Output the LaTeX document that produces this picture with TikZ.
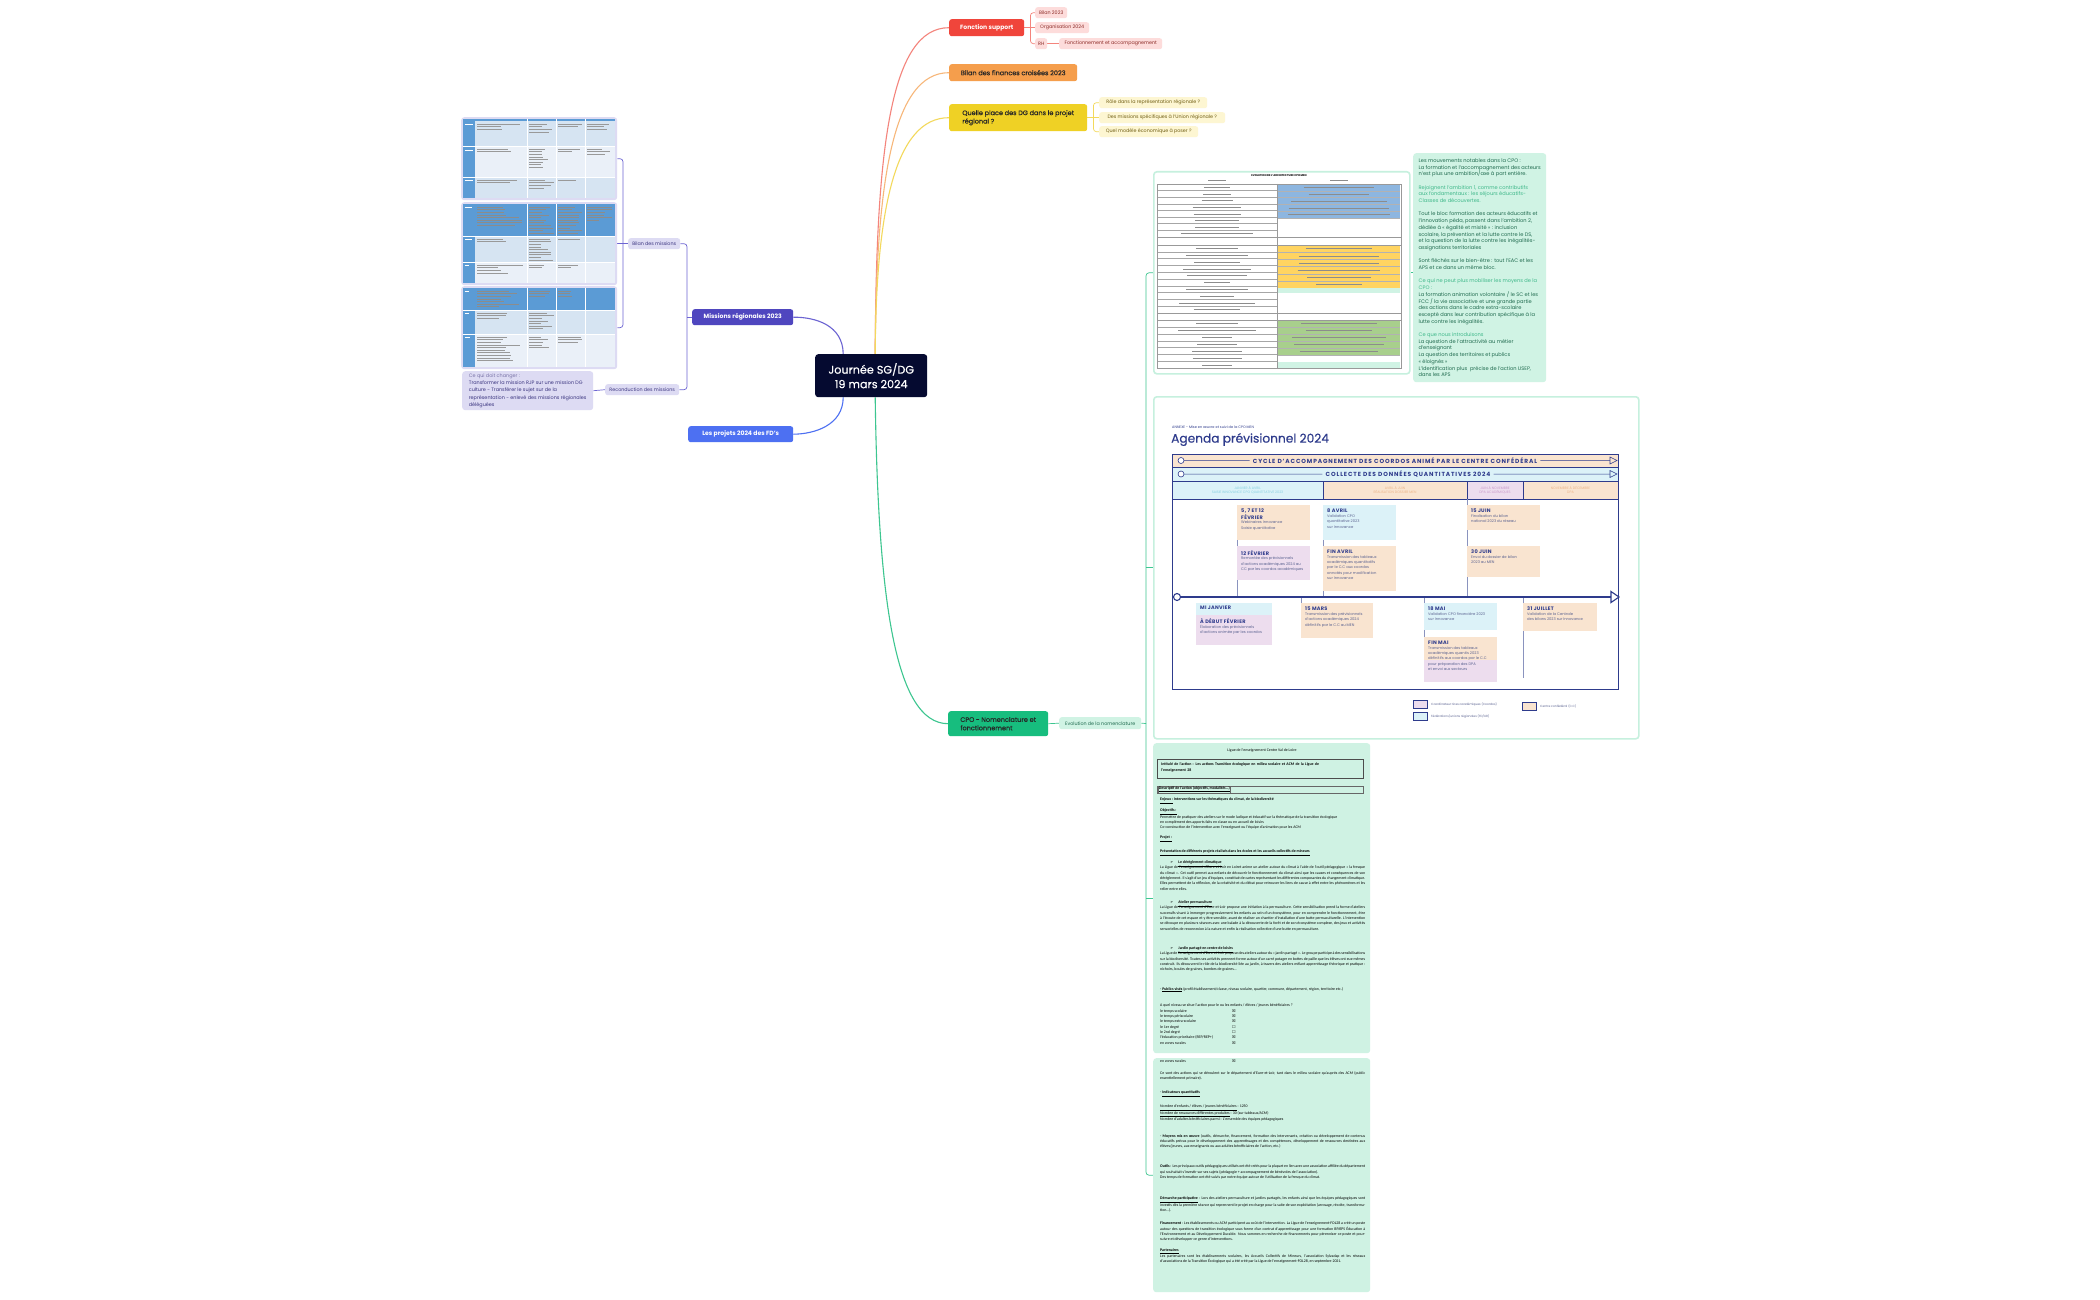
\documentclass[tikz,border=0pt]{standalone}
\usepackage{fontspec}
\setmainfont{Poppins}
\newfontfamily\pmed{Poppins}[FakeBold=0.5]
\newfontfamily\docf{Carlito}
\newfontfamily\dvs{DejaVu Sans}
\usetikzlibrary{calc}
\pgfdeclarelayer{back}
\pgfdeclarelayer{bg}
\pgfsetlayers{back,bg,main}
\definecolor{navy}{HTML}{050A30}
\definecolor{fsred}{HTML}{F0453B}
\definecolor{fsredln}{HTML}{F4847C}
\definecolor{fssub}{HTML}{FDDCDB}
\definecolor{fstxt}{HTML}{8C2B27}
\definecolor{orng}{HTML}{F59E4C}
\definecolor{orngln}{HTML}{F7B77A}
\definecolor{yel}{HTML}{EFD125}
\definecolor{yelln}{HTML}{F3D95C}
\definecolor{yelsub}{HTML}{FDF6D2}
\definecolor{yeltxt}{HTML}{6E5C12}
\definecolor{grn}{HTML}{17BD7E}
\definecolor{grnln}{HTML}{3DC690}
\definecolor{grnsub}{HTML}{D0F3E4}
\definecolor{grntxt}{HTML}{1F6A4E}
\definecolor{grnlt}{HTML}{3FB88A}
\definecolor{grnfr}{HTML}{C6F0DE}
\definecolor{pur}{HTML}{4F46BF}
\definecolor{purln}{HTML}{6C64D2}
\definecolor{pursub}{HTML}{DDDBF3}
\definecolor{purtxt}{HTML}{3B3580}
\definecolor{purgr}{HTML}{7A74A8}
\definecolor{blu}{HTML}{4D70F2}
\definecolor{ag}{HTML}{2E3B8C}
\definecolor{agbody}{HTML}{5A6290}
\definecolor{agdiv}{HTML}{8A93BE}
\definecolor{agpeach}{HTML}{F9E4D0}
\definecolor{agblue}{HTML}{DCF2F8}
\definecolor{aglav}{HTML}{EDDDEE}
\definecolor{phblue}{HTML}{86CFE0}
\definecolor{phpeach}{HTML}{EBB58A}
\definecolor{phlav}{HTML}{C99BCB}
\definecolor{tbblue}{HTML}{5B9BD5}
\definecolor{tblt}{HTML}{D6E4F2}
\definecolor{tbxlt}{HTML}{EAF0F8}
\definecolor{evblue}{HTML}{8DB6E0}
\definecolor{evorg}{HTML}{FFD461}
\definecolor{evgrn}{HTML}{A8CF8C}
\definecolor{docbg}{HTML}{CFF2E3}
\newcommand\fcen{\pmed\fontsize{11.2pt}{14.5pt}\selectfont}
\newcommand\fone{\pmed\fontsize{6.5pt}{8.4pt}\selectfont}
\newcommand\fonebf{\fontsize{6.1pt}{8pt}\selectfont\bfseries}
\newcommand\ftwo{\fontsize{4.8pt}{6pt}\selectfont}
\newcommand\fcq{\fontsize{4.9pt}{7.2pt}\selectfont}
\newcommand\fgt{\fontsize{5.1pt}{6.7pt}\selectfont}
\newcommand\fagt{\fontsize{5pt}{6.2pt}\selectfont\bfseries\addfontfeature{LetterSpace=6}}
\newcommand\fagb{\fontsize{3.7pt}{5.2pt}\selectfont}
\newcommand\fband{\fontsize{5.9pt}{6.5pt}\selectfont\bfseries\addfontfeature{LetterSpace=15}}
\newcommand\fph{\fontsize{3.4pt}{4.5pt}\selectfont}
\newcommand\fdoc{\docf\fontsize{3.9pt}{5.3pt}\selectfont}
\tikzset{
  mm/.style={anchor=north west, rounded corners=2.5pt, inner sep=1pt, align=left},
  cl/.style={line width=1.1pt},
  sl/.style={line width=0.7pt, rounded corners=3pt},
  imgfr/.style={anchor=north west, rounded corners=3pt, draw=grnfr, line width=1.6pt, fill=white, inner sep=0pt},
  fkl/.style={line width=0.35pt, draw=#1},
  fkl/.default={black!45},
  docp/.style={anchor=north west, inner sep=0pt, font=\fdoc, text width=205pt, align=justify},
  agcol/.style={draw=ag, line width=0.6pt}
}
% fake text lines: x, ytop, width, n, pitch, colour
\newcommand\fk[6]{\foreach \i in {1,...,#4}{\pgfmathsetmacro\L{#3*(0.45+0.55*rnd)}\draw[line width=0.35pt,#6] (#1,#2+\i*#5-#5) -- ++(\L,0);}}
\newcommand\evleft[3]{\foreach \i in {1,...,#2}{\pgfmathsetmacro\yy{#1+(\i-0.5)*#3}\pgfmathsetmacro\L{25+55*rnd}\draw[fkl] (1217-\L/2,\yy) -- (1217+\L/2,\yy);\draw[black!35,line width=0.3pt] (1157,#1+\i*#3) -- (1277,#1+\i*#3);}}
\newcommand\evright[4]{\fill[#3] (1278,#1) rectangle (1400,#2);\pgfmathsetmacro\pp{(#2-#1)/#4}\foreach \i in {1,...,#4}{\pgfmathsetmacro\yy{#1+(\i-0.5)*\pp}\pgfmathsetmacro\L{40+70*rnd}\draw[fkl] (1339-\L/2,\yy) -- (1339+\L/2,\yy);\draw[black!30,line width=0.3pt] (1278,#1+\i*\pp) -- (1400,#1+\i*\pp);}}
\newcommand\agcard[8]{%
  \fill[#6] (#2,#3) rectangle (#4,#5);
  \node[anchor=north west, inner sep=0pt, text=ag, font=\fagt, align=left] (#1t) at (#2+4,#3+4) {#7};
  \node[anchor=north west, inner sep=0pt, text=agbody, font=\fagb, align=left] (#1b) at ([yshift=-1.5pt]#1t.south west) {#8};}
\begin{document}
\begin{tikzpicture}[x=1pt,y=-1pt]
\pgfmathsetseed{7}
\begin{pgfonlayer}{back}
\fill[white] (0,0) rectangle (2100,1300);
\end{pgfonlayer}
\path[use as bounding box] (0,0) rectangle (2100,1300);

% ---------- central and first level ----------
\node[mm, fill=navy, text=white, font=\fcen, align=center, minimum width=112pt, minimum height=43pt, rounded corners=3pt] (c) at (815,354) {Journée SG/DG\\19 mars 2024};
\node[mm, fill=fsred, text=white, font=\fonebf, minimum width=75pt, minimum height=17pt] (fs) at (949,19) {Fonction support};
\node[mm, fill=orng, text=black!85, font=\fone, minimum width=128pt, minimum height=17pt] (bf) at (949,64) {Bilan des finances croisées 2023};
\node[mm, fill=yel, text=black!85, font=\fone, minimum width=138pt, minimum height=27pt] (qp) at (949,104) {Quelle place des DG dans le projet\\régional ?};
\node[mm, fill=grn, text=black!85, font=\fone, minimum width=100pt, minimum height=25pt] (cpo) at (948,711) {CPO - Nomenclature et\\fonctionnement};
\node[mm, fill=pur, text=white, font=\fonebf, minimum width=101pt, minimum height=16pt] (mr) at (692,309) {Missions régionales 2023};
\node[mm, fill=blu, text=white, font=\fonebf, minimum width=105pt, minimum height=16pt] (fd) at (688,426) {Les projets 2024 des FD's};

% ---------- second level ----------
\node[mm, fill=fssub, text=fstxt, font=\ftwo, minimum width=32pt, minimum height=11pt] (b23) at (1035,7) {Bilan 2023};
\node[mm, fill=fssub, text=fstxt, font=\ftwo, minimum width=54pt, minimum height=11pt] (org) at (1035,22) {Organisation 2024};
\node[mm, fill=fssub, text=fstxt, font=\ftwo, minimum width=12pt, minimum height=11pt] (rh) at (1035,38) {RH};
\node[mm, fill=fssub, text=fstxt, font=\ftwo, minimum width=103pt, minimum height=11pt] (fa) at (1059,38) {Fonctionnement et accompagnement};
\node[mm, fill=yelsub, text=yeltxt, font=\ftwo, minimum width=108pt, minimum height=11pt] (q1) at (1099,97) {Rôle dans la représentation régionale ?};
\node[mm, fill=yelsub, text=yeltxt, font=\ftwo, minimum width=126pt, minimum height=11pt] (q2) at (1099,112) {Des missions spécifiques à l'Union régionale ?};
\node[mm, fill=yelsub, text=yeltxt, font=\ftwo, minimum width=99pt, minimum height=11pt] (q3) at (1099,126) {Quel modèle économique à poser ?};
\node[mm, fill=grnsub, text=grntxt, font=\ftwo, minimum width=82pt, minimum height=12pt] (evo) at (1059,717) {Evolution de la nomenclature};
\node[mm, fill=pursub, text=purtxt, font=\ftwo, minimum width=52pt, minimum height=11pt] (bm) at (628,238) {Bilan des missions};
\node[mm, fill=pursub, text=purtxt, font=\ftwo, minimum width=74pt, minimum height=11pt] (rc) at (605,384) {Reconduction des missions};
\node[mm, fill=pursub, text=purtxt, font=\fcq, minimum width=131pt, minimum height=39pt, rounded corners=3pt] (cq) at (462,371) {\textcolor{purgr}{Ce qui doit changer :}\\Transformer la mission RJP sur une mission DG\\culture - Transférer le sujet sur de la\\représentation - enlevé des missions régionales\\déléguées};

% ---------- left table images ----------
\node[mm, fill=pursub, minimum width=156pt, minimum height=83pt, rounded corners=3pt] (tb1) at (461,117) {};
\fill[tbxlt] (463,119) rectangle (615,198);
\fill[tbblue] (463,119) rectangle (615,121.5);
\fill[tbblue] (463,121.5) rectangle (475,198);
\fill[tblt] (475,121.5) rectangle (615,146);
\fill[tblt] (475,177) rectangle (615,198);
\draw[white, line width=0.5pt] (527,119) -- (527,198) (556,119) -- (556,198) (585,119) -- (585,198) (463,146) -- (615,146) (463,177) -- (615,177);
\fk{477}{124}{46}{3}{2.6}{black!40}\fk{529}{124}{25}{4}{2.6}{black!40}\fk{558}{124}{25}{2}{2.6}{black!40}\fk{587}{124}{26}{3}{2.6}{black!40}
\fk{477}{149}{46}{2}{2.6}{black!40}\fk{529}{149}{25}{8}{2.6}{black!40}\fk{558}{149}{25}{2}{2.6}{black!40}\fk{587}{149}{26}{3}{2.6}{black!40}
\fk{477}{180}{46}{2}{2.6}{black!40}\fk{529}{180}{25}{4}{2.6}{black!40}\fk{558}{180}{22}{1}{2.6}{black!40}
\fk{464.5}{150}{9}{1}{2.6}{white}\fk{464.5}{124}{9}{1}{2.6}{white}\fk{464.5}{180}{9}{1}{2.6}{white}

\node[mm, fill=pursub, minimum width=156pt, minimum height=83pt, rounded corners=3pt] (tb2) at (461,202) {};
\fill[tbxlt] (463,204) rectangle (615,283);
\fill[tbblue] (463,204) rectangle (615,236);
\fill[tbblue] (463,236) rectangle (475,283);
\fill[tblt] (475,236) rectangle (615,262);
\draw[white, line width=0.5pt] (527,204) -- (527,283) (556,204) -- (556,283) (585,204) -- (585,283) (463,236) -- (615,236) (463,262) -- (615,262);
\fk{477}{207}{46}{8}{2.6}{black!45}\fk{529}{207}{25}{11}{2.6}{black!45}\fk{558}{207}{25}{11}{2.6}{black!45}\fk{587}{207}{26}{6}{2.6}{black!45}
\fk{477}{239}{46}{2}{2.6}{black!40}\fk{529}{239}{25}{9}{2.6}{black!40}\fk{558}{239}{25}{1}{2.6}{black!40}
\fk{477}{265}{46}{4}{2.6}{black!40}\fk{529}{265}{25}{2}{2.6}{black!40}\fk{558}{265}{25}{2}{2.6}{black!40}
\fk{464.5}{207}{9}{1}{2.6}{white}\fk{464.5}{239}{9}{1}{2.6}{white}\fk{464.5}{265}{9}{1}{2.6}{white}

\node[mm, fill=pursub, minimum width=156pt, minimum height=83pt, rounded corners=3pt] (tb3) at (461,286) {};
\fill[tbxlt] (463,288) rectangle (615,367);
\fill[tbblue] (463,288) rectangle (615,310);
\fill[tbblue] (463,310) rectangle (475,367);
\fill[tblt] (475,310) rectangle (615,334);
\draw[white, line width=0.5pt] (527,288) -- (527,367) (556,288) -- (556,367) (585,288) -- (585,367) (463,310) -- (615,310) (463,334) -- (615,334);
\fk{477}{291}{46}{7}{2.6}{black!45}\fk{529}{291}{25}{3}{2.6}{black!45}\fk{558}{291}{25}{3}{2.6}{black!45}
\fk{477}{313}{46}{3}{2.6}{black!40}\fk{529}{313}{25}{7}{2.6}{black!40}
\fk{477}{337}{46}{10}{2.6}{black!40}\fk{529}{337}{25}{5}{2.6}{black!40}\fk{558}{337}{25}{3}{2.6}{black!40}
\fk{464.5}{291}{9}{1}{2.6}{white}\fk{464.5}{313}{9}{1}{2.6}{white}\fk{464.5}{337}{9}{1}{2.6}{white}

% ---------- evolution table image ----------
\node[imgfr, minimum width=256pt, minimum height=202pt] (ev) at (1153,171) {};
\node[font=\fontsize{2.7pt}{3pt}\selectfont\bfseries, inner sep=0pt] (evt) at (1279,176) {EVOLUTION DE L'ARCHITECTURE CPO MEN};
\draw[fkl] (1208,180.5) -- (1226,180.5) (1330,180.5) -- (1348,180.5);
\evright{184}{218}{evblue}{5}
\evright{245}{288}{evorg}{6}
\fill[grnsub] (1278,288) rectangle (1400,293);
\evright{320}{355}{evgrn}{5}
\fill[grnsub] (1278,362) rectangle (1400,368);
\evleft{184}{8}{6.6}
\evleft{245}{10}{6.8}
\evleft{320}{7}{6.9}
\draw[black!40, line width=0.4pt] (1157,184) rectangle (1401,368) (1277,184) -- (1277,368) (1157,237) -- (1401,237) (1157,245) -- (1401,245) (1157,313) -- (1401,313) (1157,320) -- (1401,320);

% ---------- green text box ----------
\node[mm, fill=grnsub, text=grntxt, font=\fgt, minimum width=133pt, minimum height=229pt, rounded corners=3pt] (gtxt) at (1413,153) {Les mouvements notables dans la CPO :\\La formation et l'accompagnement des acteurs\\n'est plus une ambition/axe à part entière.\\[6.7pt]
\textcolor{grnlt}{Rejoignent l'ambition 1, comme contributifs}\\\textcolor{grnlt}{aux fondamentaux : les séjours éducatifs-}\\\textcolor{grnlt}{Classes de découvertes.}\\[6.7pt]
Tout le bloc formation des acteurs éducatifs et\\l'innovation péda, passent dans l'ambition 2,\\dédiée à « égalité et mixité » : inclusion\\scolaire, la prévention et la lutte contre le DS,\\et la question de la lutte contre les inégalités-\\assignations territoriales\\[6.7pt]
Sont fléchés sur le bien-être : tout l'EAC et les\\APS et ce dans un même bloc.\\[6.7pt]
\textcolor{grnlt}{Ce qui ne peut plus mobiliser les moyens de la}\\\textcolor{grnlt}{CPO :}\\La formation animation volontaire / le SC et les\\FCC / la vie associative et une grande partie\\des actions dans le cadre extra-scolaire\\excepté dans leur contribution spécifique à la\\lutte contre les inégalités.\\[6.7pt]
\textcolor{grnlt}{Ce que nous introduisons}\\La question de l'attractivité au métier\\d'enseignant\\La question des territoires et publics\\« éloignés »\\L'identification plus~ précise de l'action USEP,\\dans les APS};

% ---------- agenda image ----------
\node[imgfr, minimum width=485pt, minimum height=342pt] (ag) at (1153,396) {};
\node[anchor=west, inner sep=0pt, text=ag, font=\fontsize{3.5pt}{4pt}\selectfont] (agsup) at (1172,427) {ANNEXE - Mise en œuvre et suivi de la CPO MEN};
\node[anchor=west, inner sep=0pt, text=ag, font=\pmed\fontsize{12.2pt}{13pt}\selectfont] (agtit) at (1171,439.5) {Agenda prévisionnel 2024};
\draw[agcol, fill=agpeach] (1172,454) rectangle (1618,467);
\draw[agcol, fill=agblue] (1172,467) rectangle (1618,481);
\node[font=\fband, text=ag, inner sep=3pt] (b1t) at (1395,460.7) {CYCLE D'ACCOMPAGNEMENT DES COORDOS ANIMÉ PAR LE CENTRE CONFÉDÉRAL};
\node[font=\fband, text=ag, inner sep=3pt] (b2t) at (1408,474.2) {COLLECTE DES DONNÉES QUANTITATIVES 2024};
\draw[ag, line width=0.5pt] (1184,460.5) -- (b1t.west) (b1t.east) -- (1610,460.5) (1184,474) -- (b2t.west) (b2t.east) -- (1610,474);
\draw[agcol, fill=white] (1181,460.5) circle (3) (1181,474) circle (3);
\draw[agcol, fill=agpeach] (1610,457) -- (1617,460.5) -- (1610,464) -- cycle;
\draw[agcol, fill=agblue] (1610,470.5) -- (1617,474) -- (1610,477.5) -- cycle;
\draw[agcol, fill=agblue] (1172,481) rectangle (1323,499);
\draw[agcol, fill=agpeach] (1323,481) rectangle (1467,499);
\draw[agcol, fill=aglav] (1467,481) rectangle (1523,499);
\draw[agcol, fill=agpeach] (1523,481) rectangle (1618,499);
\node[font=\fph, text=phblue, align=center, inner sep=0pt] (ph1) at (1247.5,490) {JANVIER À AVRIL\\SAISIE INNOVANCE CPO QUANTITATIVE 2023};
\node[font=\fph, text=phpeach, align=center, inner sep=0pt] (ph2) at (1395,490) {AVRIL À JUIN\\RÉALISATION DOSSIER MEN};
\node[font=\fph, text=phlav, align=center, inner sep=0pt] (ph3) at (1495,490) {JUIN À NOVEMBRE\\DPA ACADÉMIQUES};
\node[font=\fph, text=phpeach, align=center, inner sep=0pt] (ph4) at (1570.5,490) {NOVEMBRE À DÉCEMBRE\\DPA};
\draw[agcol] (1172,481) rectangle (1618,689);
\draw[agdiv, line width=0.8pt] (1237,505) -- (1237,597) (1323,505) -- (1323,597) (1467,499) -- (1467,597) (1301,597) -- (1301,637) (1424,597) -- (1424,682) (1523,597) -- (1523,678);
\agcard{ca}{1237}{505}{1310}{540}{agpeach}{5, 7 ET 12\\FÉVRIER}{Webinaires Innovance\\Saisie quantitative}
\agcard{cb}{1237}{546}{1310}{580}{aglav}{12 FÉVRIER}{Remontée des prévisionnels\\d'actions académiques 2024 au\\CC par les coordos académiques}
\agcard{cc}{1323}{505}{1396}{540}{agblue}{8 AVRIL}{Validation CPO\\quantitative 2023\\sur Innovance}
\agcard{cd}{1323}{546}{1396}{591}{agpeach}{FIN AVRIL}{Transmission des tableaux\\académiques quantitatifs\\par le C.C aux coordos\\annotés pour modification\\sur Innovance}
\agcard{ce}{1467}{505}{1540}{530}{agpeach}{15 JUIN}{Finalisation du bilan\\national 2023 du réseau}
\agcard{cf}{1467}{546}{1540}{577}{agpeach}{30 JUIN}{Envoi du dossier de bilan\\2023 au MEN}
\fill[agblue] (1196,603) rectangle (1272,615);
\fill[aglav] (1196,615) rectangle (1272,645);
\node[anchor=north west, inner sep=0pt, text=ag, font=\fagt] (cgt) at (1200,606) {MI JANVIER};
\node[anchor=north west, inner sep=0pt, text=ag, font=\fagt] (cgu) at (1200,618) {À DÉBUT FÉVRIER};
\node[anchor=north west, inner sep=0pt, text=agbody, font=\fagb, align=left] (cgb) at ([yshift=-1.5pt]cgu.south west) {Élaboration des prévisionnels\\d'actions animée par les coordos};
\agcard{ch}{1301}{603}{1373}{638}{agpeach}{15 MARS}{Transmission des prévisionnels\\d'actions académiques 2024\\définitifs par le C.C au MEN}
\agcard{ci}{1424}{603}{1497}{630}{agblue}{18 MAI}{Validation CPO financière 2023\\sur Innovance}
\fill[aglav] (1424,660) rectangle (1497,682);
\agcard{cj}{1424}{637}{1497}{660}{agpeach}{FIN MAI}{Transmission des tableaux\\académiques quantis 2023\\définitifs aux coordos par le C.C\\pour préparation des DPA\\et envoi aux secteurs}
\agcard{ck}{1523}{603}{1597}{631}{agpeach}{31 JUILLET}{Validation de la Centrale\\des bilans 2023 sur Innovance}
\draw[ag, line width=1.1pt] (1180.5,597) -- (1611,597);
\draw[ag, line width=1.1pt, fill=white] (1177,597) circle (3.5);
\draw[ag, line width=1.1pt, fill=white, line join=miter] (1611,591.5) -- (1619,597) -- (1611,602.5) -- cycle;
\draw[agcol, fill=aglav] (1413,700) rectangle (1427,708);
\draw[agcol, fill=agpeach] (1522,702) rectangle (1536,710);
\draw[agcol, fill=agblue] (1413,712) rectangle (1427,720);
\node[anchor=west, inner sep=0pt, text=agbody, font=\fontsize{3pt}{3.5pt}\selectfont] (lg1) at (1431,704) {Coordinateur·rices académiques (Coordos)};
\node[anchor=west, inner sep=0pt, text=agbody, font=\fontsize{3pt}{3.5pt}\selectfont] (lg2) at (1540,706) {Centre confédéral (C.C)};
\node[anchor=west, inner sep=0pt, text=agbody, font=\fontsize{3pt}{3.5pt}\selectfont] (lg3) at (1431,716) {Fédérations/unions régionales (FD/UR)};

% ---------- document images ----------
\node[mm, fill=docbg, minimum width=217pt, minimum height=310pt, rounded corners=3pt] (doc1) at (1153,743) {};
\node[mm, fill=docbg, minimum width=217pt, minimum height=234pt, rounded corners=3pt] (doc2) at (1153,1058) {};
\node[font=\fdoc, inner sep=0pt] (d1) at (1262,750) {Ligue de l'enseignement Centre Val de Loire};
\node[anchor=north west, draw=black!70, line width=0.35pt, minimum width=206pt, minimum height=19pt, inner sep=0pt] (d2) at (1157,759) {};
\node[anchor=north west, font=\fdoc\bfseries, text width=178pt, inner sep=0pt, align=left] (d2t) at (1161,763) {Intitulé de l'action : Les actions Transition écologique en milieu scolaire et ACM de la Ligue de l'enseignement 28};
\node[anchor=north west, draw=black!60, line width=0.3pt, minimum width=206pt, minimum height=7pt, inner sep=0pt] (d3) at (1157,786) {};
\node[anchor=west, font=\fdoc\bfseries, inner sep=0.7pt, draw=black!60, line width=0.25pt] (d3t) at (1158,789.5) {\underline{Descriptif de l'action (objectifs, modalités…)}};
\node[docp] (d4) at (1160,798) {\textbf{\underline{Enjeux :} Interventions sur les thématiques du climat, de la biodiversité}};
\node[docp] (d5) at (1160,809) {\textbf{\underline{Objectifs :}}\\Permettre de pratiquer des ateliers sur le mode ludique et éducatif sur la thématique de la transition écologique\\en complément des apports faits en classe ou en accueil de loisirs\\Co-construction de l'intervention avec l'enseignant ou l'équipe d'animation pour les ACM};
\node[docp] (d6) at (1160,836) {\textbf{\underline{Projet :}}};
\node[docp] (d7) at (1160,850) {\textbf{\underline{Présentation de différents projets réalisés dans les écoles et les accueils collectifs de mineurs}}};
\node[docp] (d8) at (1170,861) {{\dvs ➢}\hspace{5pt}\textbf{\underline{Le dérèglement climatique}}};
\node[docp] (d9) at (1160,866) {La Ligue de l'enseignement d'Eure-et-Loir en Loiret anime un atelier autour du climat à l'aide de l'outil pédagogique « la fresque du climat ». Cet outil permet aux enfants de découvrir le fonctionnement du climat ainsi que les causes et conséquences de son dérèglement. Il s'agit d'un jeu d'équipes, constitué de cartes représentant les différentes composantes du changement climatique. Elles permettent de la réflexion, de la créativité et du débat pour retrouver les liens de cause à effet entre les phénomènes et les relier entre elles.};
\node[docp] (d10) at (1170,901) {{\dvs ➢}\hspace{5pt}\textbf{\underline{Atelier permaculture}}};
\node[docp] (d11) at (1160,906) {La Ligue de l'enseignement d'Eure-et-Loir propose une initiation à la permaculture. Cette sensibilisation prend la forme d'ateliers successifs visant à immerger progressivement les enfants au sein d'un écosystème, pour en comprendre le fonctionnement, être à l'écoute de cet espace et y être sensible, avant de réaliser un chantier d'installation d'une butte permaculturelle. L'intervention se découpe en plusieurs séances avec une balade à la découverte de la forêt et de son écosystème complexe, des jeux et activités sensorielles de reconnexion à la nature et enfin la réalisation collective d'une butte en permaculture.};
\node[docp] (d12) at (1170,947) {{\dvs ➢}\hspace{5pt}\textbf{\underline{Jardin partagé en centre de loisirs}}};
\node[docp] (d13) at (1160,952) {La Ligue de l'enseignement d'Eure-et-Loir propose des ateliers autour du « jardin partagé ». Le groupe participe à des sensibilisations sur la biodiversité. Toutes ses activités prennent forme autour d'un carré potager en bottes de paille que les élèves ont eux-mêmes construit. Ils découvrent le rôle de la biodiversité liée au jardin, à travers des ateliers mêlant apprentissage théorique et pratique : nichoirs, boules de graines, bombes de graines…};
\node[docp] (d14) at (1160,987) {- \textbf{\underline{Publics visés}} (profil établissement/classe, niveau scolaire, quartier, commune, département, région, territoire etc.)};
\node[docp] (d15) at (1160,1004) {A quel niveau se situe l'action pour le ou les enfants / élèves / jeunes bénéficiaires ?\\\makebox[72pt][l]{le temps scolaire}{\dvs ☒}\\\makebox[72pt][l]{le temps périscolaire}{\dvs ☒}\\\makebox[72pt][l]{le temps extra-scolaire}{\dvs ☒}\\\makebox[72pt][l]{le 1er degré}{\dvs ☐}\\\makebox[72pt][l]{le 2nd degré}{\dvs ☐}\\\makebox[72pt][l]{l'éducation prioritaire (REP/REP+)}{\dvs ☒}\\\makebox[72pt][l]{en zones rurales}{\dvs ☒}};
\node[docp] (e1) at (1160,1059) {\makebox[72pt][l]{en zones rurales}{\dvs ☒}};
\node[docp] (e2) at (1160,1071) {Ce sont des actions qui se déroulent sur le département d'Eure-et-Loir, tant dans le milieu scolaire qu'auprès des ACM (public essentiellement primaire).};
\node[docp] (e3) at (1160,1091) {- \textbf{\underline{Indicateurs quantitatifs}}};
\node[docp] (e4) at (1160,1105) {\underline{Nombre d'enfants / élèves / jeunes bénéficiaires} : 1250\\\underline{Nombre de ressources différentes produites} : 30 (sur tableaux/ACM)\\Nombre d'adultes bénéficiaires parmi : L'ensemble des équipes pédagogiques};
\node[docp] (e5) at (1160,1134) {- \textbf{Moyens mis en œuvre} (outils, démarche, financement, formation des intervenants, création ou développement de contenus éducatifs prévus pour le développement des apprentissages et des compétences, développement de ressources destinées aux élèves/jeunes, aux enseignants ou aux adultes bénéficiaires de l'action, etc.)};
\node[docp] (e6) at (1160,1165) {\textbf{Outils} : Les principaux outils pédagogiques utilisés ont été créés pour la plupart en lien avec une association affiliée du département qui souhaitait s'investir sur ses sujets (pédagogie + accompagnement de bénévoles de l'association).\\Des temps de formation ont été suivis par notre équipe autour de l'utilisation de la fresque du climat.};
\node[docp] (e7) at (1160,1197) {\textbf{\underline{Démarche participative}} : Lors des ateliers permaculture et jardins partagés, les enfants ainsi que les équipes pédagogiques sont investis dès la première séance qui reprennent le projet en charge pour la suite de son exploitation (arrosage, récolte, transformation…).};
\node[docp] (e8) at (1160,1222) {\textbf{Financement} : Les établissements ou ACM participent au coût de l'intervention. La Ligue de l'enseignement-FOL28 a créé un poste autour des questions de transition écologique sous forme d'un contrat d'apprentissage pour une formation BPJEPS Éducation à l'Environnement et au Développement Durable. Nous sommes en recherche de financements pour pérenniser ce poste et poursuivre et développer ce genre d'interventions.};
\node[docp] (e9) at (1160,1249) {\textbf{\underline{Partenaires}}\\Les partenaires sont les établissements scolaires, les Accueils Collectifs de Mineurs, l'association Sylvadap et les réseaux d'associations de la Transition Écologique qui a été créé par la Ligue de l'enseignement-FOL28, en septembre 2021.};

% ---------- connectors ----------
\coordinate (gs) at (1146,723.5);
\begin{pgfonlayer}{bg}
\draw[cl, fsredln] ([xshift=4pt]c.north) .. controls (876,150) and (890,27.5) .. (fs.west);
\draw[cl, orngln] ([xshift=4pt]c.north) .. controls (876,180) and (893,72.5) .. (bf.west);
\draw[cl, yelln] ([xshift=4pt]c.north) .. controls (876,210) and (895,117.5) .. (qp.west);
\draw[cl, grnln] ([xshift=4pt]c.south) .. controls (878,600) and (895,723.5) .. (cpo.west);
\draw[cl, purln] ([xshift=-28pt]c.north) .. controls (843,325) and (815,317) .. (mr.east);
\draw[cl, blu] ([xshift=-28pt]c.south) .. controls (843,425) and (815,434) .. (fd.east);
\draw[sl, fsredln] (b23.west) -| ([xshift=6pt]fs.east) |- (rh.west);
\draw[sl, fsredln] (fs.east) -- (org.west);
\draw[sl, fsredln] (rh.east) -- (fa.west);
\draw[sl, yelln] (q1.west) -| ([xshift=6pt]qp.east) |- (q3.west);
\draw[sl, yelln] (qp.east) -- (q2.west);
\draw[sl, purln] (bm.east) -| ([xshift=-5pt]mr.west) |- (rc.east);
\draw[sl, purln] (mr.west) -- ([xshift=-5pt]mr.west);
\draw[sl, purln] (tb1.east) -| ([xshift=-5pt]bm.west) |- (tb3.east);
\draw[sl, purln] (bm.west) -- (tb2.east);
\draw[sl, purln] (rc.west) -- (cq.east);
\draw[sl, grnln] (cpo.east) -- (evo.west);
\draw[sl, grnln] (ev.west) -| (gs) |- (doc2.west);
\draw[sl, grnln] (evo.east) -- (gs);
\draw[sl, grnln] (ag.west -| gs) -- (ag.west);
\draw[sl, grnln] (doc1.west -| gs) -- (doc1.west);
\draw[sl, grnln] (ev.east) -- (ev.east -| gtxt.west);
\end{pgfonlayer}
\end{tikzpicture}
\end{document}
